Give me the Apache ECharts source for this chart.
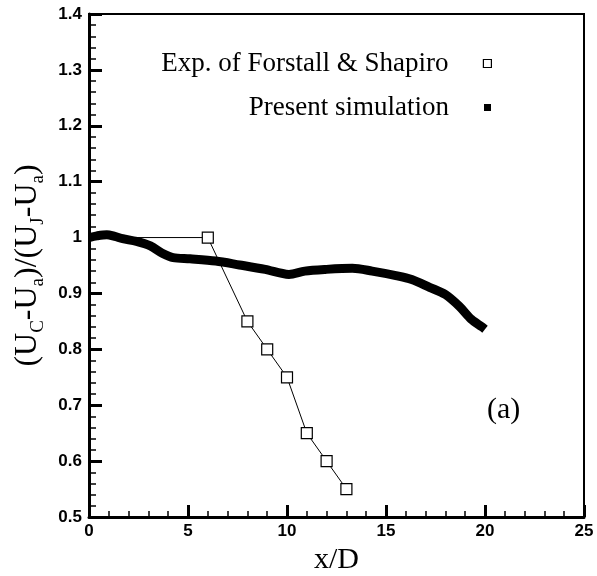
<!DOCTYPE html>
<html>
<head>
<meta charset="utf-8">
<title>Centreline velocity decay</title>
<script src="https://cdn.jsdelivr.net/npm/echarts@6/dist/echarts.min.js"></script>
<style>
  html, body { margin: 0; padding: 0; background: #fff; }
  #chart { width: 597px; height: 576px; }
</style>
</head>
<body>
<div id="chart"></div>
<script>
// Experimental centreline data (Forstall & Shapiro)
const expX = [0, 6, 8, 9, 10, 11, 12, 13];
const expY = [1.0, 1.0, 0.85, 0.80, 0.75, 0.65, 0.60, 0.55];

// Present simulation, centreline profile
const simX = [0, 0.4, 0.9, 1.3, 1.7, 2.4, 3.1, 3.75, 4.25, 5.1, 6.4, 7.6, 8.9,
              10.1, 10.9, 11.95, 13.3, 14.3, 15.5, 16.3, 17.2, 18.0, 18.7, 19.3, 19.85, 20.0];
const simY = [1.0, 1.003, 1.005, 1.002, 0.998, 0.993, 0.985, 0.971, 0.964, 0.962, 0.958, 0.951, 0.943,
              0.934, 0.940, 0.943, 0.945, 0.940, 0.932, 0.925, 0.911, 0.898, 0.877, 0.854, 0.840, 0.836];

const seriesNames = ['Exp. of Forstall & Shapiro', 'Present simulation'];

const zip = (xs, ys) => xs.map((x, i) => [x, ys[i]]);

const serif = '"Liberation Serif", "Times New Roman", serif';
const sans = '"Liberation Sans", Arial, sans-serif';

const chart = echarts.init(document.getElementById('chart'), null, { renderer: 'canvas' });

const legendText = {
  fontFamily: serif,
  fontSize: 27,
  color: '#000',
  padding: [0, 30, 0, 0]
};

chart.setOption({
  animation: false,
  backgroundColor: '#fff',
  grid: {
    left: 89, right: 13, top: 14, bottom: 59,
    containLabel: false,
    outerBoundsMode: 'none',
    show: true, borderColor: '#000', borderWidth: 2, backgroundColor: 'transparent'
  },
  legend: [
    {
      data: [{ name: seriesNames[0], icon: 'rect',
               itemStyle: { color: '#fff', borderColor: '#000', borderWidth: 1.2 } }],
      right: 100, top: 45, align: 'right',
      itemWidth: 8, itemHeight: 8,
      textStyle: legendText,
      selectedMode: false
    },
    {
      data: [{ name: seriesNames[1], icon: 'rect', itemStyle: { color: '#000' } }],
      right: 101, top: 89, align: 'right',
      itemWidth: 7, itemHeight: 7,
      textStyle: legendText,
      selectedMode: false
    }
  ],
  xAxis: {
    type: 'value',
    min: 0, max: 25, interval: 5,
    name: 'x/D',
    nameLocation: 'middle',
    nameGap: 24,
    nameTextStyle: { fontFamily: serif, fontSize: 30, color: '#000' },
    axisLine: { lineStyle: { color: '#000', width: 3 } },
    axisTick: { inside: true, length: 12, lineStyle: { color: '#000', width: 3 } },
    minorTick: { show: true, splitNumber: 5, length: 6, lineStyle: { color: '#000', width: 1.5 } },
    axisLabel: { fontFamily: sans, fontWeight: 'bold', fontSize: 17, color: '#000', margin: 6 },
    splitLine: { show: false }
  },
  yAxis: {
    type: 'value',
    min: 0.5, max: 1.4, interval: 0.1,
    name: '(U{s|C}-U{s|a})/(U{s|J}-U{s|a})',
    nameLocation: 'middle',
    nameGap: 40,
    nameTextStyle: {
      fontFamily: serif, fontSize: 32, color: '#000', lineHeight: 40,
      rich: {
        s: { fontFamily: serif, fontSize: 19, color: '#000', lineHeight: 19, verticalAlign: 'bottom' }
      }
    },
    axisLine: { lineStyle: { color: '#000', width: 3 } },
    axisTick: { inside: true, length: 13, lineStyle: { color: '#000', width: 3 } },
    minorTick: { show: true, splitNumber: 5, length: 7, lineStyle: { color: '#000', width: 1.5 } },
    axisLabel: {
      fontFamily: sans, fontWeight: 'bold', fontSize: 17, color: '#000', margin: 7,
      formatter: v => String(parseFloat(v.toFixed(2)))
    },
    splitLine: { show: false }
  },
  graphic: [
    {
      type: 'text', left: 487, top: 395,
      style: { text: '(a)', font: '30px ' + serif, fill: '#000' }
    }
  ],
  series: [
    {
      name: seriesNames[0],
      type: 'line',
      data: zip(expX, expY),
      symbol: 'rect',
      // the x = 0 marker sits under the simulation curve
      symbolSize: (v, p) => (p.dataIndex === 0 ? 0 : 11),
      showAllSymbol: true,
      itemStyle: { color: '#fff', borderColor: '#000', borderWidth: 1.2 },
      lineStyle: { color: '#000', width: 1 },
      clip: true,
      z: 2
    },
    {
      name: seriesNames[1],
      type: 'line',
      data: zip(simX, simY),
      symbol: 'none',
      smooth: 0.3,
      itemStyle: { color: '#000' },
      lineStyle: { color: '#000', width: 9 },
      clip: true,
      z: 3
    }
  ]
});
</script>
</body>
</html>
